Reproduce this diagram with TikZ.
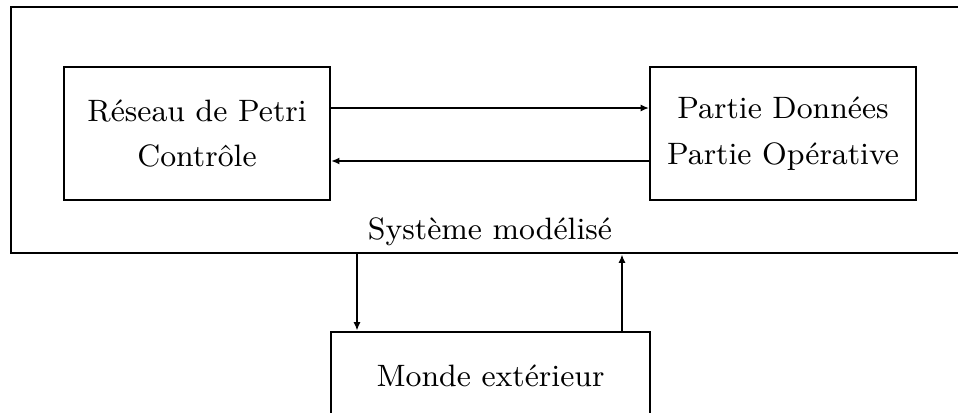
\documentclass[tikz,border=0pt]{standalone}
\usetikzlibrary{positioning}
\usetikzlibrary{arrows.meta}
\tikzset{>={Latex[length=2.4pt, width=2pt]}}
\tikzset{boite/.style={draw, semithick, minimum width=2.66cm, minimum height=1.33cm, align=center, font=\fontsize{8.8}{13}\selectfont}}

\begin{document}
\begin{tikzpicture}
    \useasboundingbox(0, 0) rectangle (9.58, 4.12);
    \clip(0, 0) rectangle (9.58, 4.12);
    \node[draw, thick, minimum width=9.58cm, minimum height=2.46cm](systeme) at (4.9, 2.82){};
    \node[anchor=base, font=\fontsize{8.8}{13}\selectfont](titre) at ([yshift=.15cm]systeme.south){Système modélisé};
    \node[boite](reseau) at (1.97, 2.785){Réseau de Petri\\Contrôle};
    \node[boite, right=3.18cm of reseau](partie){Partie Données\\Partie Opérative};
    \node[boite, thick, minimum width=3.19cm, minimum height=.88cm](monde) at (4.905, .36){Monde extérieur};
    \draw[->, semithick]([yshift=.255cm]reseau.east)--([yshift=.255cm]partie.west);
    \draw[->, semithick]([yshift=-.275cm]partie.west)--([yshift=-.275cm]reseau.east);
    \coordinate(descente) at ([xshift=-1.335cm]monde.north);
    \coordinate(montee) at ([xshift=1.315cm]monde.north);
    \draw[->, thick](descente |- systeme.south)--(descente);
    \draw[->, semithick](montee)--(montee |- systeme.south);
\end{tikzpicture}
\end{document}
